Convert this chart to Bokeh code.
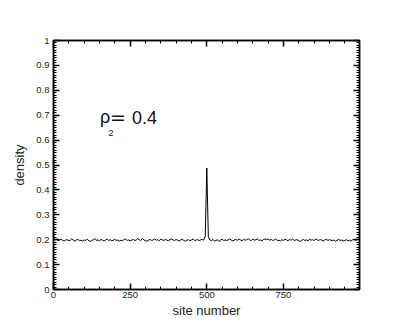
from bokeh.plotting import figure
from bokeh.models import Range1d, LinearAxis, FixedTicker, Label, CustomJSTickFormatter
from bokeh.embed import file_html
from bokeh.resources import INLINE

# site numbers (every 5th site) and measured density
sites = list(range(0, 1000, 5))
density = [
    0.203, 0.199, 0.201, 0.196, 0.198, 0.202, 0.197, 0.195, 0.199, 0.200,
    0.196, 0.198, 0.204, 0.197, 0.194, 0.199, 0.201, 0.196, 0.198, 0.195,
    0.199, 0.197, 0.202, 0.196, 0.193, 0.198, 0.200, 0.205, 0.197, 0.199,
    0.196, 0.201, 0.198, 0.195, 0.199, 0.203, 0.197, 0.200, 0.196, 0.198,
    0.201, 0.197, 0.199, 0.194, 0.198, 0.196, 0.200, 0.203, 0.197, 0.199,
    0.195, 0.198, 0.201, 0.197, 0.199, 0.204, 0.200, 0.197, 0.206, 0.199,
    0.196, 0.194, 0.198, 0.201, 0.197, 0.199, 0.203, 0.198, 0.200, 0.196,
    0.202, 0.199, 0.197, 0.201, 0.198, 0.196, 0.200, 0.203, 0.199, 0.197,
    0.201, 0.198, 0.195, 0.199, 0.202, 0.197, 0.194, 0.198, 0.200, 0.196,
    0.199, 0.203, 0.197, 0.198, 0.201, 0.196, 0.199, 0.202, 0.198, 0.215,
    0.488, 0.212, 0.199, 0.196, 0.201, 0.194, 0.197, 0.200, 0.193, 0.198,
    0.202, 0.197, 0.199, 0.196, 0.200, 0.203, 0.198, 0.195, 0.199, 0.201,
    0.197, 0.203, 0.199, 0.196, 0.201, 0.198, 0.200, 0.204, 0.199, 0.197,
    0.202, 0.198, 0.200, 0.203, 0.197, 0.199, 0.196, 0.201, 0.203, 0.200,
    0.202, 0.198, 0.201, 0.197, 0.199, 0.203, 0.196, 0.198, 0.195, 0.200,
    0.197, 0.202, 0.199, 0.196, 0.201, 0.198, 0.203, 0.197, 0.199, 0.200,
    0.196, 0.193, 0.198, 0.201, 0.197, 0.199, 0.195, 0.202, 0.198, 0.200,
    0.196, 0.203, 0.199, 0.197, 0.201, 0.198, 0.195, 0.199, 0.202, 0.197,
    0.200, 0.198, 0.196, 0.199, 0.194, 0.198, 0.201, 0.197, 0.199, 0.195,
    0.197, 0.200, 0.196, 0.198, 0.194, 0.199, 0.201, 0.197, 0.200, 0.203,
]

x_ticks = [0, 250, 500, 750]
y_ticks = [0, 0.1, 0.2, 0.3, 0.4, 0.5, 0.6, 0.7, 0.8, 0.9, 1]
y_tick_labels = ["0", "0.1", "0.2", "0.3", "0.4", "0.5", "0.6", "0.7", "0.8", "0.9", "1"]

x_minor = [v for v in range(0, 1000, 50) if v not in x_ticks]
y_minor = [round(i * 0.01, 2) for i in range(101)]

FONT = "Liberation Sans"

p = figure(width=399, height=320,
           x_range=Range1d(0, 998), y_range=Range1d(0, 1),
           output_backend="svg", toolbar_location=None,
           x_axis_label="site number", y_axis_label="density",
           min_border_left=53, min_border_right=40,
           min_border_top=40, min_border_bottom=29)

p.xgrid.visible = False
p.ygrid.visible = False
p.outline_line_color = "black"
p.outline_line_width = 1.5
p.background_fill_color = "white"
p.border_fill_color = "white"

p.line(sites, density, line_color="black", line_width=1)

xt = FixedTicker(ticks=x_ticks, minor_ticks=x_minor)
yt = FixedTicker(ticks=y_ticks, minor_ticks=y_minor)


def style(ax, show_labels=True):
    ax.axis_line_color = "black"
    ax.axis_line_width = 1.5
    ax.major_tick_in = 6
    ax.major_tick_out = 0
    ax.minor_tick_in = 3
    ax.minor_tick_out = 0
    ax.major_tick_line_color = "black"
    ax.major_tick_line_width = 1.5
    ax.minor_tick_line_color = "black"
    ax.minor_tick_line_width = 1
    ax.major_label_text_font = FONT
    ax.major_label_text_color = "#222222"
    ax.axis_label_text_font = FONT
    ax.axis_label_text_font_style = "normal"
    ax.axis_label_text_font_size = "13px"
    ax.axis_label_text_color = "#222222"
    ax.major_label_text_font_size = "9.5px"
    if not show_labels:
        ax.formatter = CustomJSTickFormatter(code="return ''")
        ax.major_label_standoff = 0


xa = p.xaxis[0]
xa.ticker = xt
style(xa)
xa.major_label_standoff = 2
xa.axis_label_standoff = 2

ya = p.yaxis[0]
ya.ticker = yt
ya.major_label_overrides = {t: l for t, l in zip(y_ticks, y_tick_labels)}
style(ya)
ya.major_label_standoff = 4
ya.axis_label_standoff = 6

top = LinearAxis(ticker=xt)
style(top, show_labels=False)
p.add_layout(top, "above")

right = LinearAxis(ticker=yt)
style(right, show_labels=False)
p.add_layout(right, "right")

# annotation  rho_2 = 0.4
p.add_layout(Label(x=152, y=0.691, text="ρ", text_font=FONT, text_font_size="18px",
                   text_baseline="alphabetic", text_color="#111111"))
p.add_layout(Label(x=179, y=0.628, text="2", text_font=FONT, text_font_size="9px",
                   text_baseline="alphabetic", text_color="#111111"))
p.add_layout(Label(x=184, y=0.691, text="=", text_font="DejaVu Sans", text_font_size="19px",
                   text_baseline="alphabetic", text_color="#111111"))
p.add_layout(Label(x=256, y=0.691, text="0.4", text_font=FONT, text_font_size="18px",
                   text_baseline="alphabetic", text_color="#111111"))

open("out.html", "w").write(file_html(p, INLINE))
